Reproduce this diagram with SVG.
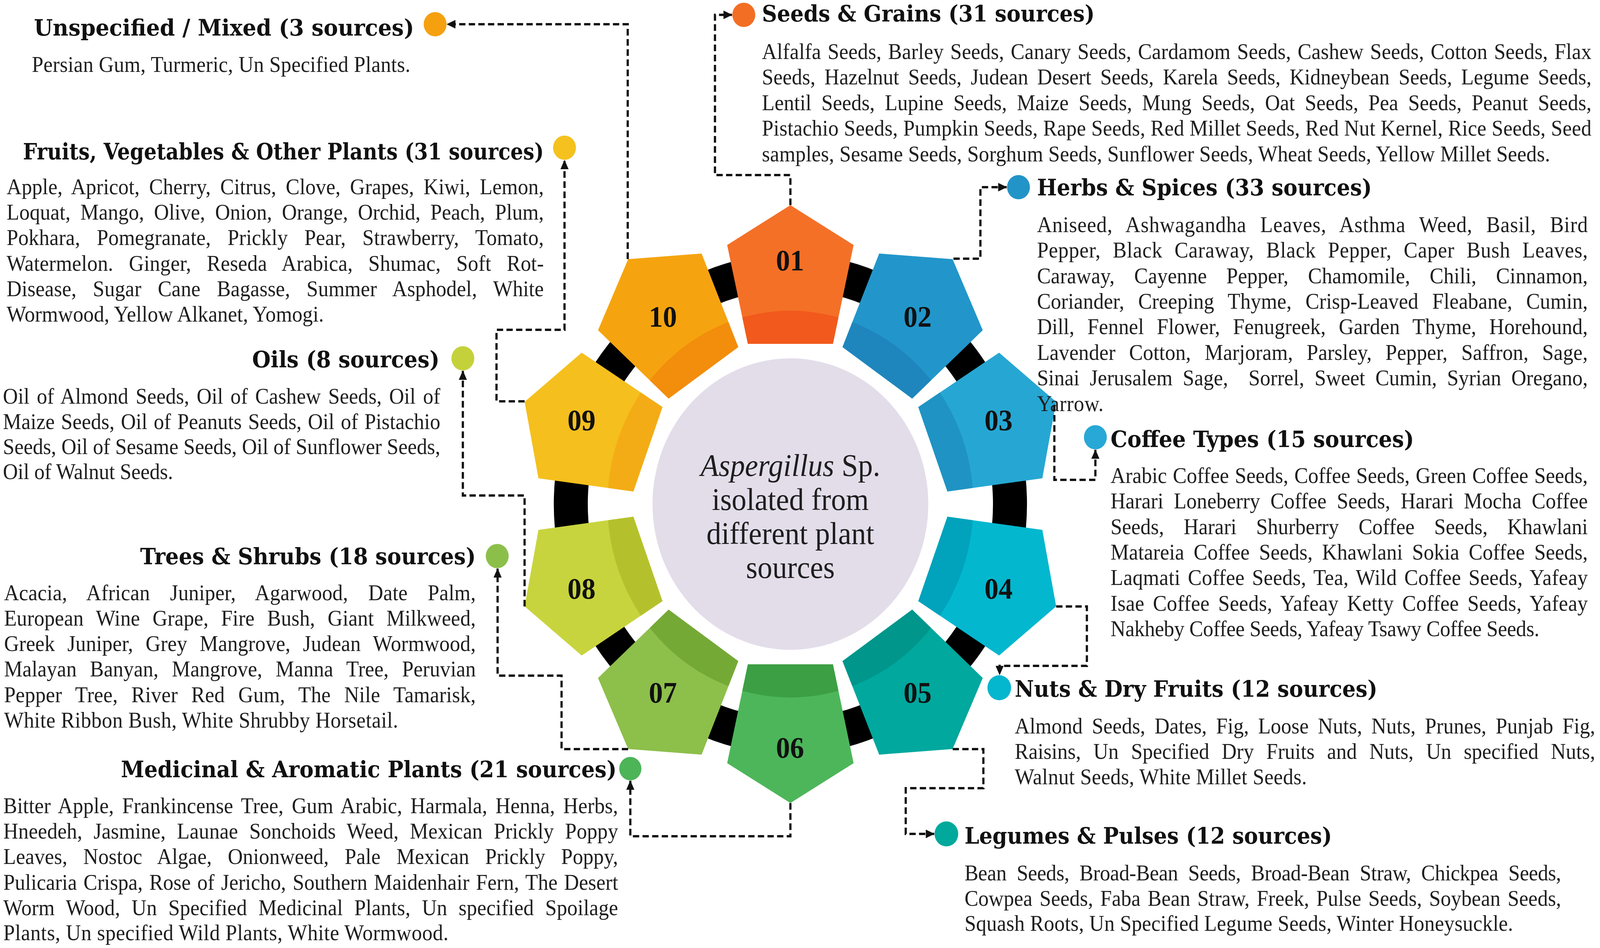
<svg xmlns="http://www.w3.org/2000/svg" width="4328" height="2426" viewBox="0 0 4328 2426" preserveAspectRatio="none" style="width:100vw;height:100vh;display:block">
<style>
.h{font-family:"DejaVu Serif",serif;font-weight:bold;font-size:58px;fill:#111}
.b{font-family:"Liberation Serif",serif;font-size:56px;fill:#1e1e1e}
.num{font-family:"Liberation Serif",serif;font-weight:bold;font-size:76px;fill:#111;text-anchor:middle}
.ct{font-family:"Liberation Serif",serif;font-size:80px;fill:#1e1e1e;text-anchor:middle}
.cn{fill:none;stroke:#111;stroke-width:6;stroke-dasharray:17 9;marker-end:url(#ah)}
</style>
<defs>
<clipPath id="pc"><polygon points="0,-765 171,-663 115,-410 -115,-410 -171,-663"/></clipPath>
<polygon id="pent" points="0,-765 171,-663 115,-410 -115,-410 -171,-663"/>
<marker id="ah" markerUnits="userSpaceOnUse" viewBox="0 0 24 22" markerWidth="24" markerHeight="22" refX="23" refY="11" orient="auto"><path d="M0,0 L24,11 L0,22 z" fill="#111"/></marker>
</defs>
<rect width="4328" height="2426" fill="#fff"/>

<g id="ring">
<circle cx="2138" cy="1290" r="594" fill="none" stroke="#000" stroke-width="92"/>
</g>

<g id="center">
<circle cx="2138" cy="1290" r="373" fill="#E3DDEA"/>
<text class="ct" x="2138" y="1218"><tspan font-style="italic">Aspergillus</tspan> Sp.</text>
<text class="ct" x="2138" y="1305">isolated from</text>
<text class="ct" x="2138" y="1392">different plant</text>
<text class="ct" x="2138" y="1479">sources</text>
</g>

<g id="node-01">
<g transform="translate(2138 1290) rotate(0)"><use href="#pent" fill="#F47027"/><circle r="495" fill="#F15A1C" clip-path="url(#pc)"/></g>
<text class="num" x="2137" y="692">01</text>
</g>
<g id="node-02">
<g transform="translate(2138 1290) rotate(35)"><use href="#pent" fill="#2296CA"/><circle r="495" fill="#1E86BD" clip-path="url(#pc)"/></g>
<text class="num" x="2482" y="836">02</text>
</g>
<g id="node-03">
<g transform="translate(2138 1290) rotate(70)"><use href="#pent" fill="#26A7D3"/><circle r="495" fill="#1F93C3" clip-path="url(#pc)"/></g>
<text class="num" x="2701" y="1101">03</text>
</g>
<g id="node-04">
<g transform="translate(2138 1290) rotate(110)"><use href="#pent" fill="#03B7CF"/><circle r="495" fill="#00A2BC" clip-path="url(#pc)"/></g>
<text class="num" x="2701" y="1532">04</text>
</g>
<g id="node-05">
<g transform="translate(2138 1290) rotate(145)"><use href="#pent" fill="#00A89E"/><circle r="495" fill="#00968B" clip-path="url(#pc)"/></g>
<text class="num" x="2482" y="1798">05</text>
</g>
<g id="node-06">
<g transform="translate(2138 1290) rotate(180)"><use href="#pent" fill="#4DB65A"/><circle r="495" fill="#3C9F43" clip-path="url(#pc)"/></g>
<text class="num" x="2137" y="1939">06</text>
</g>
<g id="node-07">
<g transform="translate(2138 1290) rotate(215)"><use href="#pent" fill="#8DBF4B"/><circle r="495" fill="#75A936" clip-path="url(#pc)"/></g>
<text class="num" x="1793" y="1798">07</text>
</g>
<g id="node-08">
<g transform="translate(2138 1290) rotate(250)"><use href="#pent" fill="#C8D43D"/><circle r="495" fill="#B5C12C" clip-path="url(#pc)"/></g>
<text class="num" x="1573" y="1532">08</text>
</g>
<g id="node-09">
<g transform="translate(2138 1290) rotate(290)"><use href="#pent" fill="#F5BF1E"/><circle r="495" fill="#F4AC16" clip-path="url(#pc)"/></g>
<text class="num" x="1573" y="1101">09</text>
</g>
<g id="node-10">
<g transform="translate(2138 1290) rotate(325)"><use href="#pent" fill="#F5A40F"/><circle r="495" fill="#F38D0C" clip-path="url(#pc)"/></g>
<text class="num" x="1793" y="836">10</text>
</g>

<g id="connectors">
<path class="cn" d="M2138,525 V448 H1934 V38 H1980"/>
<path class="cn" d="M2579,662 H2652 V479 H2723"/>
<path class="cn" d="M2852,1036 V1228 H2963 V1151"/>
<path class="cn" d="M2857,1552 H2940 V1704 H2704 V1727"/>
<path class="cn" d="M2577,1917 H2660 V2017 H2450 V2134 H2527"/>
<path class="cn" d="M2138,2055 V2140 H1705 V1998"/>
<path class="cn" d="M1699,1917 H1519 V1729 H1346 V1455"/>
<path class="cn" d="M1419,1552 V1268 H1252 V949"/>
<path class="cn" d="M1419,1027 H1343 V844 H1527 V410"/>
<path class="cn" d="M1698,663 V62 H1209"/>
</g>

<g id="cat-seeds">
<circle cx="2012" cy="38" r="31" fill="#F36E25"/>
<text class="h" x="2061" y="55" textLength="900" lengthAdjust="spacingAndGlyphs">Seeds &amp; Grains (31 sources)</text>
<text class="b" x="2061" y="151" style="word-spacing:3.6px" textLength="2244" lengthAdjust="spacing">Alfalfa Seeds, Barley Seeds, Canary Seeds, Cardamom Seeds, Cashew Seeds, Cotton Seeds, Flax</text>
<text class="b" x="2061" y="216" style="word-spacing:10.5px" textLength="2244" lengthAdjust="spacing">Seeds, Hazelnut Seeds, Judean Desert Seeds, Karela Seeds, Kidneybean Seeds, Legume Seeds,</text>
<text class="b" x="2061" y="282" style="word-spacing:13px" textLength="2244" lengthAdjust="spacing">Lentil Seeds, Lupine Seeds, Maize Seeds, Mung Seeds, Oat Seeds, Pea Seeds, Peanut Seeds,</text>
<text class="b" x="2061" y="347" textLength="2244" lengthAdjust="spacing">Pistachio Seeds, Pumpkin Seeds, Rape Seeds, Red Millet Seeds, Red Nut Kernel, Rice Seeds, Seed</text>
<text class="b" x="2061" y="413" textLength="2132" lengthAdjust="spacing">samples, Sesame Seeds, Sorghum Seeds, Sunflower Seeds, Wheat Seeds, Yellow Millet Seeds.</text>
</g>

<g id="cat-herbs">
<circle cx="2755" cy="479" r="31" fill="#2394C8"/>
<text class="h" x="2805" y="500" textLength="906" lengthAdjust="spacingAndGlyphs">Herbs &amp; Spices (33 sources)</text>
<text class="b" x="2805" y="594" style="word-spacing:22.4px" textLength="1490" lengthAdjust="spacing">Aniseed, Ashwagandha Leaves, Asthma Weed, Basil, Bird</text>
<text class="b" x="2805" y="659" style="word-spacing:17.9px" textLength="1490" lengthAdjust="spacing">Pepper, Black Caraway, Black Pepper, Caper Bush Leaves,</text>
<text class="b" x="2805" y="725" style="word-spacing:38.6px" textLength="1490" lengthAdjust="spacing">Caraway, Cayenne Pepper, Chamomile, Chili, Cinnamon,</text>
<text class="b" x="2805" y="790" style="word-spacing:23.4px" textLength="1490" lengthAdjust="spacing">Coriander, Creeping Thyme, Crisp-Leaved Fleabane, Cumin,</text>
<text class="b" x="2805" y="855" style="word-spacing:21px" textLength="1490" lengthAdjust="spacing">Dill, Fennel Flower, Fenugreek, Garden Thyme, Horehound,</text>
<text class="b" x="2805" y="921" style="word-spacing:22.8px" textLength="1490" lengthAdjust="spacing">Lavender Cotton, Marjoram, Parsley, Pepper, Saffron, Sage,</text>
<text class="b" x="2805" y="986" style="word-spacing:13.6px" textLength="1490" lengthAdjust="spacing" xml:space="preserve">Sinai Jerusalem Sage,  Sorrel, Sweet Cumin, Syrian Oregano,</text>
<text class="b" x="2805" y="1052" textLength="180" lengthAdjust="spacing">Yarrow.</text>
</g>

<g id="cat-coffee">
<circle cx="2963" cy="1119" r="31" fill="#27A8D6"/>
<text class="h" x="3004" y="1144" textLength="821" lengthAdjust="spacingAndGlyphs">Coffee Types (15 sources)</text>
<text class="b" x="3004" y="1236" style="word-spacing:1.9px" textLength="1291" lengthAdjust="spacing">Arabic Coffee Seeds, Coffee Seeds, Green Coffee Seeds,</text>
<text class="b" x="3004" y="1301" style="word-spacing:13.8px" textLength="1291" lengthAdjust="spacing">Harari Loneberry Coffee Seeds, Harari Mocha Coffee</text>
<text class="b" x="3004" y="1367" style="word-spacing:39px" textLength="1291" lengthAdjust="spacing">Seeds, Harari Shurberry Coffee Seeds, Khawlani</text>
<text class="b" x="3004" y="1432" style="word-spacing:11.5px" textLength="1291" lengthAdjust="spacing">Matareia Coffee Seeds, Khawlani Sokia Coffee Seeds,</text>
<text class="b" x="3004" y="1497" style="word-spacing:5.9px" textLength="1291" lengthAdjust="spacing">Laqmati Coffee Seeds, Tea, Wild Coffee Seeds, Yafeay</text>
<text class="b" x="3004" y="1563" style="word-spacing:8.7px" textLength="1291" lengthAdjust="spacing">Isae Coffee Seeds, Yafeay Ketty Coffee Seeds, Yafeay</text>
<text class="b" x="3004" y="1628" textLength="1160" lengthAdjust="spacing">Nakheby Coffee Seeds, Yafeay Tsawy Coffee Seeds.</text>
</g>

<g id="cat-nuts">
<circle cx="2703" cy="1760" r="32" fill="#05B6CF"/>
<text class="h" x="2745" y="1783" textLength="981" lengthAdjust="spacingAndGlyphs">Nuts &amp; Dry Fruits (12 sources)</text>
<text class="b" x="2745" y="1877" style="word-spacing:10.9px" textLength="1570" lengthAdjust="spacing">Almond Seeds, Dates, Fig, Loose Nuts, Nuts, Prunes, Punjab Fig,</text>
<text class="b" x="2745" y="1942" style="word-spacing:19.6px" textLength="1570" lengthAdjust="spacing">Raisins, Un Specified Dry Fruits and Nuts, Un specified Nuts,</text>
<text class="b" x="2745" y="2007" textLength="790" lengthAdjust="spacing">Walnut Seeds, White Millet Seeds.</text>
</g>

<g id="cat-legumes">
<circle cx="2560" cy="2134" r="32" fill="#00A99C"/>
<text class="h" x="2609" y="2159" textLength="994" lengthAdjust="spacingAndGlyphs">Legumes &amp; Pulses (12 sources)</text>
<text class="b" x="2609" y="2253" style="word-spacing:14px" textLength="1614" lengthAdjust="spacing">Bean Seeds, Broad-Bean Seeds, Broad-Bean Straw, Chickpea Seeds,</text>
<text class="b" x="2609" y="2318" style="word-spacing:5.1px" textLength="1614" lengthAdjust="spacing">Cowpea Seeds, Faba Bean Straw, Freek, Pulse Seeds, Soybean Seeds,</text>
<text class="b" x="2609" y="2382" textLength="1484" lengthAdjust="spacing">Squash Roots, Un Specified Legume Seeds, Winter Honeysuckle.</text>
</g>

<g id="cat-medicinal">
<circle cx="1705" cy="1967" r="30" fill="#4DB458"/>
<text class="h" x="327" y="1989" textLength="1341" lengthAdjust="spacingAndGlyphs">Medicinal &amp; Aromatic Plants (21 sources)</text>
<text class="b" x="9" y="2081" style="word-spacing:8px" textLength="1663" lengthAdjust="spacing">Bitter Apple, Frankincense Tree, Gum Arabic, Harmala, Henna, Herbs,</text>
<text class="b" x="9" y="2146" style="word-spacing:16.3px" textLength="1663" lengthAdjust="spacing">Hneedeh, Jasmine, Launae Sonchoids Weed, Mexican Prickly Poppy</text>
<text class="b" x="9" y="2211" style="word-spacing:29px" textLength="1663" lengthAdjust="spacing">Leaves, Nostoc Algae, Onionweed, Pale Mexican Prickly Poppy,</text>
<text class="b" x="9" y="2277" style="word-spacing:3.7px" textLength="1663" lengthAdjust="spacing">Pulicaria Crispa, Rose of Jericho, Southern Maidenhair Fern, The Desert</text>
<text class="b" x="9" y="2342" style="word-spacing:16.6px" textLength="1663" lengthAdjust="spacing">Worm Wood, Un Specified Medicinal Plants, Un specified Spoilage</text>
<text class="b" x="9" y="2406" textLength="1204" lengthAdjust="spacing">Plants, Un specified Wild Plants, White Wormwood.</text>
</g>

<g id="cat-trees">
<circle cx="1345" cy="1423" r="31" fill="#8CBF4A"/>
<text class="h" x="379" y="1444" textLength="908" lengthAdjust="spacingAndGlyphs">Trees &amp; Shrubs (18 sources)</text>
<text class="b" x="11" y="1536" style="word-spacing:40.2px" textLength="1276" lengthAdjust="spacing">Acacia, African Juniper, Agarwood, Date Palm,</text>
<text class="b" x="11" y="1601" style="word-spacing:20px" textLength="1276" lengthAdjust="spacing">European Wine Grape, Fire Bush, Giant Milkweed,</text>
<text class="b" x="11" y="1666" style="word-spacing:19.4px" textLength="1276" lengthAdjust="spacing">Greek Juniper, Grey Mangrove, Judean Wormwood,</text>
<text class="b" x="11" y="1731" style="word-spacing:22px" textLength="1276" lengthAdjust="spacing">Malayan Banyan, Mangrove, Manna Tree, Peruvian</text>
<text class="b" x="11" y="1797" style="word-spacing:22.3px" textLength="1276" lengthAdjust="spacing">Pepper Tree, River Red Gum, The Nile Tamarisk,</text>
<text class="b" x="11" y="1862" textLength="1066" lengthAdjust="spacing">White Ribbon Bush, White Shrubby Horsetail.</text>
</g>

<g id="cat-oils">
<circle cx="1252" cy="917" r="31" fill="#C5D13B"/>
<text class="h" x="682" y="940" textLength="507" lengthAdjust="spacingAndGlyphs">Oils (8 sources)</text>
<text class="b" x="8" y="1033" style="word-spacing:5.8px" textLength="1183" lengthAdjust="spacing">Oil of Almond Seeds, Oil of Cashew Seeds, Oil of</text>
<text class="b" x="8" y="1098" style="word-spacing:3.3px" textLength="1183" lengthAdjust="spacing">Maize Seeds, Oil of Peanuts Seeds, Oil of Pistachio</text>
<text class="b" x="8" y="1162" textLength="1183" lengthAdjust="spacing">Seeds, Oil of Sesame Seeds, Oil of Sunflower Seeds,</text>
<text class="b" x="8" y="1226" textLength="460" lengthAdjust="spacing">Oil of Walnut Seeds.</text>
</g>

<g id="cat-fruits">
<circle cx="1527" cy="378" r="31" fill="#F4C11F"/>
<text class="h" x="62" y="408" textLength="1409" lengthAdjust="spacingAndGlyphs">Fruits, Vegetables &amp; Other Plants (31 sources)</text>
<text class="b" x="18" y="497" style="word-spacing:11.4px" textLength="1453" lengthAdjust="spacing">Apple, Apricot, Cherry, Citrus, Clove, Grapes, Kiwi, Lemon,</text>
<text class="b" x="18" y="562" style="word-spacing:12.7px" textLength="1453" lengthAdjust="spacing">Loquat, Mango, Olive, Onion, Orange, Orchid, Peach, Plum,</text>
<text class="b" x="18" y="627" style="word-spacing:30.6px" textLength="1453" lengthAdjust="spacing">Pokhara, Pomegranate, Prickly Pear, Strawberry, Tomato,</text>
<text class="b" x="18" y="693" style="word-spacing:28px" textLength="1453" lengthAdjust="spacing">Watermelon. Ginger, Reseda Arabica, Shumac, Soft Rot-</text>
<text class="b" x="18" y="758" style="word-spacing:30.3px" textLength="1453" lengthAdjust="spacing">Disease, Sugar Cane Bagasse, Summer Asphodel, White</text>
<text class="b" x="18" y="823" textLength="858" lengthAdjust="spacing">Wormwood, Yellow Alkanet, Yomogi.</text>
</g>

<g id="cat-unspecified">
<circle cx="1177" cy="62" r="31" fill="#F5A00F"/>
<text class="h" x="92" y="91" textLength="1028" lengthAdjust="spacingAndGlyphs">Unspecified / Mixed (3 sources)</text>
<text class="b" x="86" y="184" textLength="1024" lengthAdjust="spacing">Persian Gum, Turmeric, Un Specified Plants.</text>
</g>
</svg>
